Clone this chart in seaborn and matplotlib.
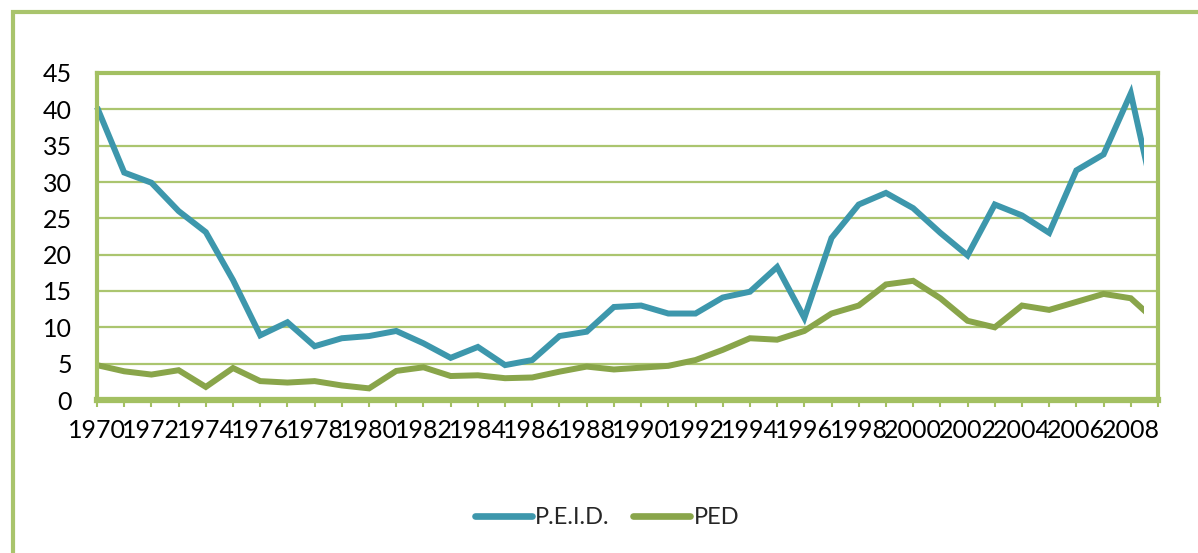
import numpy as np
import pandas as pd
import matplotlib
matplotlib.use("Agg")
import matplotlib.pyplot as plt
from matplotlib.patches import Rectangle
import seaborn as sns

# ---- data ----
years = list(range(1970, 2010))
peid = [40.3, 31.3, 29.9, 26.0, 23.1, 16.5, 8.9, 10.7, 7.4, 8.5,
        8.8, 9.5, 7.8, 5.8, 7.3, 4.8, 5.5, 8.8, 9.4, 12.8,
        13.0, 11.9, 11.9, 14.1, 14.9, 18.3, 11.3, 22.3, 26.9, 28.5,
        26.4, 23.0, 19.9, 26.9, 25.4, 23.0, 31.6, 33.8, 42.2, 25.4]
ped = [4.8, 3.95, 3.5, 4.1, 1.8, 4.4, 2.6, 2.4, 2.6, 2.0,
       1.6, 4.0, 4.5, 3.3, 3.4, 3.0, 3.1, 3.9, 4.6, 4.2,
       4.45, 4.7, 5.5, 6.9, 8.5, 8.3, 9.5, 11.9, 13.0, 15.9,
       16.4, 14.0, 10.9, 10.0, 13.0, 12.4, 13.5, 14.6, 14.0, 10.6]
series_names = ["P.E.I.D.", "PED"]
y_ticks = [0, 5, 10, 15, 20, 25, 30, 35, 40, 45]
x_tick_labels = [str(y) if (y - years[0]) % 2 == 0 else "" for y in years]

colors = ["#3D97AC", "#89A54A"]
grid_col = "#ABC56F"
frame_col = "#A3C062"

df = pd.DataFrame({
    "year": years * 2,
    "value": peid + ped,
    "series": [series_names[0]] * len(years) + [series_names[1]] * len(years),
})

sns.set_theme(style="white")
plt.rcParams["font.family"] = ["Lato", "DejaVu Sans"]

fig = plt.figure(figsize=(11.98, 5.53), dpi=100)
W, H = 1198, 553
ax = fig.add_axes([97 / W, 1 - 400 / H, (1158 - 97) / W, (400 - 73) / H])

sns.lineplot(data=df, x="year", y="value", hue="series", palette=colors,
             linewidth=4.3, ax=ax, legend=False, sort=False)

# lines are cut half a category before the last year, as in the reference
clip = Rectangle((years[0] - 1, -100), (years[-1] - 0.5) - (years[0] - 1), 300,
                 transform=ax.transData, visible=False)
ax.add_patch(clip)
for ln in ax.get_lines():
    ln.set_clip_path(clip)
    ln.set_solid_joinstyle("miter")
    ln.set_solid_capstyle("butt")

ax.set_xlim(years[0], years[-1])
ax.set_ylim(y_ticks[0], y_ticks[-1])
ax.set_yticks(y_ticks)
ax.set_yticklabels([str(v) for v in y_ticks])
ax.set_xticks(years)
ax.set_xticklabels(x_tick_labels)
ax.set_xlabel("")
ax.set_ylabel("")

for v in y_ticks[1:-1]:
    ax.axhline(v, color=grid_col, linewidth=1.6, zorder=0.5)

for s in ["left", "right", "top"]:
    ax.spines[s].set_color(frame_col)
    ax.spines[s].set_linewidth(3.0)
ax.spines["bottom"].set_color(frame_col)
ax.spines["bottom"].set_linewidth(4.5)

ax.tick_params(axis="x", which="major", direction="out", length=5, width=1.5,
               color=frame_col, labelsize=18, pad=9, labelcolor="black")
ax.tick_params(axis="y", which="major", length=0, labelsize=18, pad=18,
               labelcolor="black")
ax.tick_params(bottom=True, left=False)

# outer chart border (extends past the right and bottom image edges)
fig.patches.append(Rectangle((13 / W, -0.05), 1.2, 1 - 12 / H + 0.05,
                             transform=fig.transFigure, fill=False,
                             edgecolor="#A9C46C", linewidth=3.0))

handles = [plt.Line2D([], [], color=c, linewidth=4.8, solid_capstyle="round")
           for c in colors]
fig.legend(handles, series_names, loc="center", ncol=2,
           bbox_to_anchor=(607 / W, 1 - 518 / H), frameon=False,
           fontsize=17, handlelength=2.4, handletextpad=0.15,
           columnspacing=1.0)

fig.savefig("out.png", dpi=100)
